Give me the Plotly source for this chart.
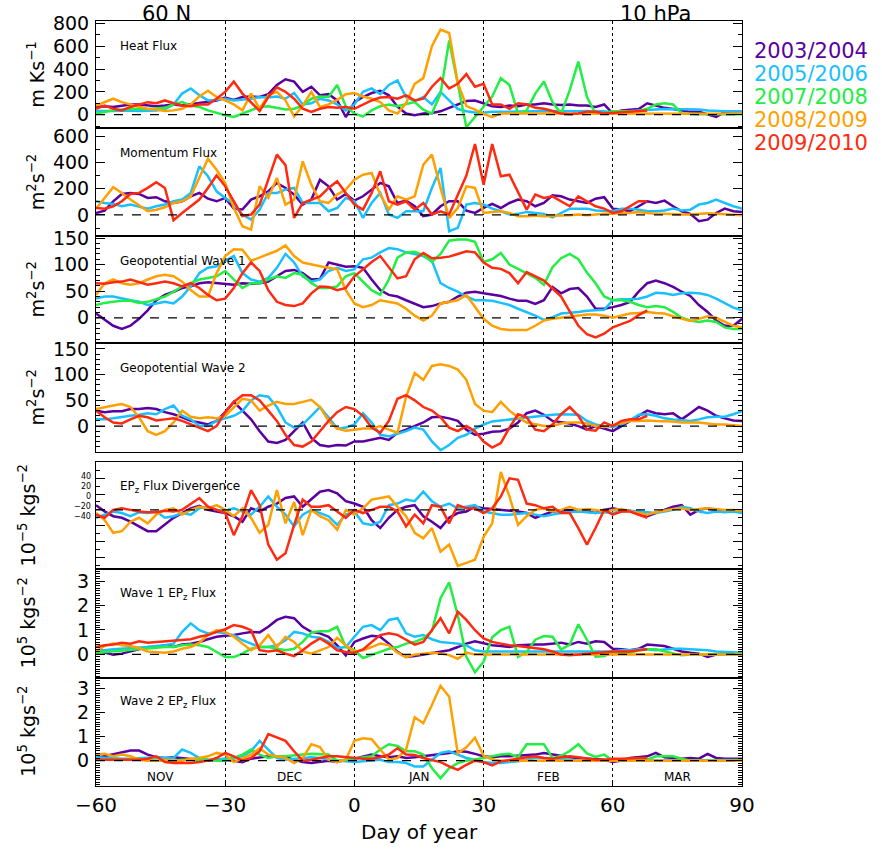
import plotly.graph_objects as go

N = None
days = list(range(-60, 91, 2))
seasons = ["2003/2004", "2005/2006", "2007/2008", "2008/2009", "2009/2010"]
colors = ["#5a00a0", "#19c0ff", "#22ee44", "#ffa000", "#ff2a10"]
months = ["NOV", "DEC", "JAN", "FEB", "MAR"]
month_days = [-45, -15, 15, 45, 75]

# ---------------- Heat Flux (m K/s) ----------------
heat_0304 = [68,75,68,80,90,90,80,75,80,90,
             80,90,105,110,125,150,130,155,160,155,
             180,260,310,290,200,245,170,180,125,-20,
             110,155,190,210,170,70,10,-5,10,15,
             30,60,90,120,125,100,75,68,80,75,
             90,90,100,90,85,90,80,80,68,90,
             10,38,45,50,100,80,60,50,38,25,
             25,5,-20,25,25,25]
heat_0506 = [32,30,32,35,38,32,35,38,50,90,
             185,230,170,125,130,140,125,130,140,155,
             150,160,140,190,90,100,140,125,90,38,
             90,200,230,180,260,300,155,120,155,90,
             200,125,50,30,20,18,25,25,25,30,
             25,30,32,30,30,32,30,32,32,30,
             20,30,32,38,45,45,50,50,45,48,
             45,38,32,25,25,25]
heat_0708 = [10,25,38,45,50,52,50,52,60,90,
             110,80,68,38,15,-5,-20,10,38,68,
             75,60,45,52,80,140,160,155,260,75,
             10,-15,38,75,90,75,90,110,45,10,
             185,650,270,-110,-20,70,160,320,260,10,
             38,185,290,110,10,215,465,155,10,10,
             30,30,32,32,52,90,100,90,10,5,
             5,5,5,5,5,5]
heat_0809 = [80,110,140,110,90,68,50,45,32,38,
             52,90,160,210,155,125,90,38,185,52,
             170,200,125,-15,80,200,68,90,130,180,
             190,160,140,110,38,10,100,270,320,600,
             745,715,280,75,45,5,-20,10,10,8,
             8,8,8,8,8,8,8,8,8,8,
             8,8,8,8,8,8,8,8,8,8,
             8,8,8,8,8,8]
heat_0910 = [52,80,52,38,68,90,110,100,125,100,
             80,75,90,90,140,200,290,185,110,32,
             155,240,200,140,52,25,52,68,60,68,
             52,90,125,150,155,140,170,125,140,245,
             320,230,270,355,245,270,90,90,52,100,
             90,60,52,32,10,5,10,25,25,10,
             15,25,25,30,38,N,N,N,N,N,
             N,N,N,N,N,N]

# ---------------- Momentum Flux (m2/s2) ----------------
mom_0304 = [15,33,104,160,168,160,130,135,104,91,
            104,142,168,124,104,130,48,41,117,142,
            180,244,206,155,79,117,269,218,117,160,
            109,142,193,244,218,91,109,66,-10,3,
            66,104,104,33,15,53,84,53,91,117,
            104,66,91,150,142,117,104,91,124,135,
            48,41,28,66,104,91,109,66,28,8,
            -48,-36,15,48,28,23]
mom_0506 = [104,91,84,66,79,66,48,66,79,104,
            117,168,371,295,180,130,84,3,-36,40,
            168,168,193,206,91,91,91,28,53,130,
            104,-23,91,168,3,-23,28,28,28,206,
            358,-124,-99,79,91,79,48,28,3,8,
            23,15,8,-18,15,48,48,48,33,28,
            28,48,48,40,28,28,33,48,33,40,
            79,91,117,91,66,48]
mom_0809 = [48,130,211,168,117,74,28,40,58,91,
            104,142,282,429,345,244,53,-86,-112,218,
            130,282,79,117,409,231,104,91,155,193,
            269,307,320,155,40,142,117,142,384,460,
            206,-23,53,218,206,15,23,28,15,-10,
            -10,-5,-10,-5,-5,-3,3,-3,3,8,
            8,15,15,23,15,8,8,3,3,3,
            8,13,8,3,-3,-3]
mom_0910 = [53,48,66,104,160,168,206,249,206,-40,
            15,66,117,206,302,218,104,-10,3,79,
            269,460,380,-23,91,117,142,206,256,168,
            79,40,168,333,104,79,104,40,91,3,
            28,3,150,300,541,231,541,295,307,168,
            40,155,130,142,104,66,142,104,66,48,
            15,28,66,104,104,N,N,N,N,N,
            N,N,N,N,N,N]

# ---------------- Geopotential Wave 1 (m2/s2) ----------------
geo1_0304 = [8,-4,-15,-21,-15,-2,14,33,43,49,
             56,59,65,67,65,64,62,65,64,65,
             68,78,88,90,84,72,73,104,100,96,
             97,94,72,52,43,40,33,27,20,22,
             27,30,40,47,49,46,43,41,36,32,
             32,26,33,58,46,54,56,40,17,17,
             20,24,30,49,65,70,65,58,49,41,
             24,11,-5,-15,-15,-2]
geo1_0506 = [36,40,40,36,33,30,24,27,30,27,
             40,59,84,94,97,107,116,84,72,68,
             75,94,120,104,78,68,72,88,94,88,
             91,110,113,123,131,129,123,120,116,107,
             65,56,49,40,33,33,32,28,24,17,
             11,4,-4,1,8,9,11,13,14,15,
             33,35,35,36,40,47,46,43,46,47,
             46,43,36,27,19,14]
geo1_0708 = [24,28,30,32,32,28,30,35,40,49,
             59,65,72,75,78,88,72,56,65,65,
             72,78,75,84,81,65,56,56,59,78,
             84,68,52,43,72,113,123,124,118,105,
             120,145,147,147,143,105,110,122,100,92,
             84,75,62,95,112,120,110,85,65,40,
             33,33,30,24,20,22,20,11,0,-5,
             -8,-5,-8,-18,-21,-21]
geo1_0809 = [43,65,72,65,62,65,72,78,81,78,
             68,52,40,40,84,116,129,128,107,113,
             120,126,136,116,104,100,97,94,91,52,
             27,20,24,33,30,27,17,4,-5,4,
             27,30,33,43,20,-2,-15,-21,-23,-23,
             -23,-15,-5,-2,0,3,4,6,6,4,
             0,4,8,9,11,9,8,3,-2,-6,
             -2,3,0,-8,-15,-18]
geo1_0910 = [65,64,67,68,72,67,62,65,68,65,
             59,65,56,43,33,36,56,84,104,88,
             52,30,24,22,27,46,59,58,52,56,
             78,91,105,116,95,74,78,110,122,112,
             113,115,120,125,123,104,94,92,84,65,
             86,78,70,55,40,12,-15,-31,-37,-30,
             -18,-12,-6,5,14,N,N,N,N,N,
             N,N,N,N,N,N]

# ---------------- Geopotential Wave 2 (m2/s2) ----------------
geo2_0304 = [30,27,29,29,33,33,35,33,27,23,
             17,10,7,3,10,27,47,30,13,-10,
             -30,-33,-27,-10,7,-23,-37,-40,-37,-38,
             -30,-30,-27,-23,-27,-13,-7,0,7,17,
             18,15,10,-7,-17,-15,-11,-10,-5,7,
             25,30,22,10,7,5,0,-7,0,-5,
             -10,0,10,20,30,25,23,25,13,25,
             37,30,20,15,11,10]
geo2_0506 = [13,13,15,18,20,22,25,23,33,40,
             20,13,0,0,10,15,20,29,50,60,
             57,37,7,-3,3,20,37,17,-5,-3,
             3,25,7,-17,-20,-15,-10,-3,-7,-30,
             -47,-37,-23,-17,-5,3,9,11,13,15,
             17,18,20,22,23,23,22,10,3,0,
             -2,3,11,22,23,20,15,13,11,10,
             13,17,18,18,23,29]
geo2_0809 = [33,37,40,43,37,17,-10,-17,-10,7,
             30,18,15,17,15,20,37,53,50,30,
             40,47,43,43,47,51,37,10,-5,-9,
             -7,-5,-5,0,-7,-13,57,103,90,117,
             120,117,110,90,43,30,27,47,30,17,
             7,3,0,0,5,7,7,5,0,-2,
             2,7,10,10,11,10,10,9,7,7,
             7,5,3,3,2,0]
geo2_0910 = [30,17,7,5,13,20,17,11,13,15,
             10,3,-3,-10,0,27,47,60,60,50,
             30,10,-17,-37,-40,-30,-10,10,27,37,
             33,20,-3,-13,10,53,60,50,37,30,
             17,-3,-10,0,-10,-30,-42,-33,-3,23,
             17,-7,-10,3,23,37,20,-7,-9,7,
             0,10,13,13,20,N,N,N,N,N,
             N,N,N,N,N,N]

# ---------------- EPz Flux Divergence (1e-5 kg/s2) ----------------
epd_0304 = [6,-2,-8,-10,-15,-21,-27,-27,-19,-10,
            -4,2,5,0,-2,-4,-8,-15,2,-2,
            4,8,15,17,4,13,23,25,21,11,
            8,4,-13,-23,-10,0,4,6,-8,-15,
            -23,-10,-4,-2,4,2,1,0,-1,-2,
            -4,-10,-6,-2,-1,0,-1,-2,-4,0,
            2,0,-1,-6,-8,-4,0,4,6,-6,
            0,2,0,-1,-1,-1]
epd_0506 = [-10,-6,-2,-4,-8,-3,-4,-2,-10,-8,
            -4,-6,2,4,0,-1,2,-2,-6,4,
            17,4,-6,-21,-6,0,-4,-8,-19,-6,
            -2,-17,-19,-15,6,8,13,11,23,11,
            4,8,2,4,6,-2,-4,-6,-6,-5,
            -4,-6,-8,-6,-4,-3,-2,-3,-4,-3,
            -4,-2,-1,-2,-3,-4,-2,0,4,2,
            -2,-4,-2,-3,-2,-4]
epd_0809 = [-4,-13,-29,-27,-15,-10,-17,-6,0,2,
            -6,0,4,2,6,0,-8,2,-10,-29,
            -19,25,-17,10,-32,0,-8,-13,-25,0,
            -6,2,13,15,17,4,-8,-29,-36,-23,
            -53,-44,-71,-67,-63,-34,-17,48,17,-19,
            -8,0,2,-2,0,4,0,1,0,-2,
            0,1,-2,-4,-6,-3,-1,1,2,0,
            1,2,1,0,0,-1]
epd_0910 = [-6,-10,0,2,0,-2,-3,-3,-1,-2,
            0,8,15,4,0,-4,-32,-8,25,6,
            -44,-63,-55,-19,13,4,4,6,-2,-10,
            0,-4,0,4,4,-2,-21,-6,-17,6,
            4,-17,6,2,2,-4,2,17,40,38,
            8,6,2,4,-4,-4,-23,-44,-23,0,
            -6,-2,-2,-6,-10,N,N,N,N,N,
            N,N,N,N,N,N]

# ---------------- Wave 1 EPz Flux (1e5 kg/s2) ----------------
w1_0304 = [0.17,0.07,-0.01,0.03,0.12,0.23,0.3,0.3,0.37,0.3,
           0.4,0.44,0.51,0.62,0.72,0.76,0.79,0.86,0.92,0.9,
           1.13,1.41,1.54,1.48,1.13,0.92,0.86,0.72,0.37,-0.04,
           0.51,0.65,0.76,0.72,0.44,0.1,-0.11,-0.07,-0.01,0.03,
           0.12,0.17,0.3,0.44,0.54,0.44,0.37,0.34,0.3,0.37,
           0.4,0.4,0.4,0.44,0.48,0.4,0.51,0.44,0.54,0.51,
           0.23,0.21,0.17,0.23,0.4,0.37,0.34,0.23,0.12,0.07,
           0.03,-0.11,-0.01,0.03,0.03,0.03]
w1_0506 = [0.17,0.17,0.21,0.23,0.23,0.26,0.3,0.34,0.37,0.44,
           0.92,1.27,0.99,0.86,0.92,0.86,0.79,0.58,0.44,0.3,
           0.3,0.37,0.58,0.92,0.86,0.72,0.68,0.51,0.26,0.3,
           0.72,1.13,1.2,0.99,1.41,1.48,0.86,0.72,0.79,0.62,
           0.51,0.48,0.44,0.37,0.17,0.12,0.12,0.12,0.12,0.12,
           0.12,0.12,0.12,0.12,0.1,0.12,0.12,0.12,0.12,0.12,
           0.12,0.17,0.17,0.21,0.21,0.17,0.21,0.23,0.23,0.21,
           0.21,0.17,0.12,0.1,0.07,0.07]
w1_0708 = [0.07,0.1,0.12,0.17,0.17,0.21,0.23,0.26,0.3,0.3,
           0.37,0.4,0.37,0.3,0.1,-0.11,-0.11,0.03,0.23,0.3,
           0.3,0.23,0.17,0.23,0.51,0.9,0.95,0.95,1.13,0.3,
           0.17,-0.15,-0.04,0.1,0.23,0.3,0.44,0.51,0.65,0.95,
           2.3,2.95,1.6,-0.1,-0.73,-0.3,0.7,0.99,1.13,-0.1,
           0.1,0.6,0.75,0.72,0.2,0.4,1.23,0.6,-0.1,-0.07,
           0.07,0.07,0.07,0.17,0.21,0.21,0.12,0.03,-0.04,-0.01,
           -0.01,-0.01,-0.01,-0.01,-0.01,-0.01]
w1_0809 = [0.12,0.34,0.44,0.37,0.34,0.26,0.12,0.1,0.07,0.12,
           0.23,0.3,0.48,0.79,0.99,0.92,0.72,0.44,0.17,0.37,
           0.79,0.3,0.72,0.51,0.12,0.03,0.17,0.3,0.68,0.37,
           0.12,0.17,0.3,0.44,0.37,0.07,-0.11,-0.01,0.03,0.07,
           0.03,-0.03,-0.18,0.07,-0.01,-0.01,-0.01,-0.01,-0.01,-0.01,
           -0.01,-0.01,-0.01,-0.01,-0.01,-0.01,-0.01,-0.01,-0.01,-0.01,
           -0.01,-0.01,-0.01,-0.01,-0.01,-0.01,-0.01,-0.01,-0.01,-0.01,
           -0.01,-0.01,-0.01,-0.01,-0.01,-0.01]
w1_0910 = [0.3,0.37,0.4,0.48,0.44,0.54,0.48,0.51,0.54,0.58,
           0.58,0.62,0.72,0.79,0.92,1.03,1.2,1.13,0.99,0.17,
           0.12,0.17,0.03,-0.07,0.17,0.44,0.65,0.44,0.17,0.1,
           0.07,0.2,0.5,0.79,0.86,0.8,0.6,0.4,0.51,0.99,
           1.48,0.86,1.75,1.41,0.99,0.65,0.51,0.44,0.37,0.34,
           0.3,0.23,0.21,0.12,-0.01,-0.04,-0.01,0.03,0.07,0.1,
           0.12,0.12,0.12,0.17,0.21,N,N,N,N,N,
           N,N,N,N,N,N]

# ---------------- Wave 2 EPz Flux (1e5 kg/s2) ----------------
w2_0304 = [0.11,0.18,0.25,0.32,0.42,0.42,0.25,0.14,0.11,0.14,
           0.11,0.08,0.04,0,0.04,0.04,0,-0.06,0.08,0.14,
           0.18,0.18,0.14,0.04,-0.06,-0.1,-0.06,0,-0.06,0.04,
           0.08,0.18,0.25,0.18,0.14,0.18,0.11,0.14,0.18,0.23,
           0.25,0.32,0.39,0.37,0.28,0.18,0.14,0.18,0.18,0.21,
           0.25,0.25,0.32,0.25,0.18,0.14,0.11,0.08,0.08,0.04,
           -0.06,0,0.11,0.14,0.18,0.32,0.14,0.11,0.08,0.11,
           0.08,0.28,0.11,0.08,0.08,0.08]
w2_0506 = [0.14,0.11,0.11,0.08,0.08,0.11,0.14,0.14,0.11,0.11,
           0.46,0.32,0.11,0.04,0.04,0.08,0.11,0.18,0.39,0.82,
           0.46,0.11,0.04,0.08,0.11,0.14,0.11,0.04,0,-0.03,
           -0.06,-0.03,0,0.04,-0.06,-0.06,-0.1,-0.24,-0.24,0.04,
           0.32,0.39,0.25,0.11,0.04,-0.06,-0.1,-0.1,-0.06,-0.03,
           0.04,0.11,0.11,0.11,0.08,0.04,0,0,0,0,
           0,0.03,0.03,0.03,0.03,0.03,0.03,0.03,0.03,0.03,
           0.03,0.03,0.03,0.03,0.03,0.03]
w2_0708 = [0.04,0.04,0.04,0.04,0.04,0.08,0.04,0,0,0,
           0.04,0.04,0.04,0.04,0,0,0.11,0.25,0.46,0.25,
           0.11,0.18,0.18,0.23,0.25,0.28,0.28,0.25,0,0.04,
           0.08,0.11,0.18,0.46,0.68,0.61,0.39,0.39,0.25,-0.31,
           -0.73,-0.31,-0.1,0,0.04,0.11,0.18,0.25,0.28,0.14,
           0.68,0.68,0.68,0.1,0.2,0.4,0.68,0.3,0.15,0.25,
           0,0,0.04,0.04,0.04,0.18,0.18,0.18,0.08,0,
           0,0,0,0,0,0]
w2_0809 = [0.25,0.28,0.18,0.25,0.18,0.04,0,0,0.04,0,
           0,0.08,0.11,0.18,0.32,0.25,-0.06,0.08,0.25,0.51,
           0.25,0.18,0.11,-0.1,0.11,0.68,0.56,0.04,-0.06,0.04,
           0.82,0.93,0.89,0.46,0.04,0.11,0.46,1.8,1.55,2.3,
           3.1,2.65,0.3,0.55,0.95,0.2,0.05,0,0,0,
           0,0,0,0,0,0,0,0,0,0,
           0,0,0,0,0,0,0,0,0,0,
           0,0,0,0,0,0]
w2_0910 = [0.04,0.04,0.04,0.04,0.04,0.04,0.08,0.18,-0.06,-0.1,
           -0.1,-0.1,-0.06,0,0.11,0.32,0.18,0,0.11,0.39,
           1.1,0.96,0.82,0.39,0,0.04,0.11,0.18,0.18,0.14,
           0.11,0.08,0.08,0.14,0.25,0.51,0.25,0.23,0.11,0.04,
           -0.06,-0.24,-0.38,-0.17,0,-0.06,-0.2,-0.03,0.04,0.08,
           0.14,0.18,0.11,0.08,0.14,0.18,0.14,0.08,0.04,0.04,
           0.08,0.08,0.11,0.11,0.11,N,N,N,N,N,
           N,N,N,N,N,N]

# ---------------- layout constants (pixels) ----------------
W, H = 882, 850
L, R, T, B = 96, 742, 17, 786
FONT = "DejaVu Sans"


def px_x(p):
    return (p - L) / (R - L)


def px_y(p):
    return (B - p) / (B - T)


panels = [
    dict(series=[heat_0304, heat_0506, heat_0708, heat_0809, heat_0910],
         yr=[-120, 820], tv=[0, 200, 400, 600, 800], mdt=100,
         top=17, bot=125, label="Heat Flux", unit="m Ks<sup>−1</sup>", ux=36),
    dict(series=[mom_0304, mom_0506, None, mom_0809, mom_0910],
         yr=[-160, 660], tv=[0, 200, 400, 600], mdt=100,
         top=125, bot=233, label="Momentum Flux", unit="m<sup>2</sup>s<sup>−2</sup>", ux=36),
    dict(series=[geo1_0304, geo1_0506, geo1_0708, geo1_0809, geo1_0910],
         yr=[-48, 154], tv=[0, 50, 100, 150], mdt=10,
         top=233, bot=341, label="Geopotential Wave 1", unit="m<sup>2</sup>s<sup>−2</sup>", ux=36),
    dict(series=[geo2_0304, geo2_0506, None, geo2_0809, geo2_0910],
         yr=[-50, 161], tv=[0, 50, 100, 150], mdt=10,
         top=341, bot=450, label="Geopotential Wave 2", unit="m<sup>2</sup>s<sup>−2</sup>", ux=36),
    dict(series=[epd_0304, epd_0506, None, epd_0809, epd_0910],
         yr=[-75, 61], tv=[-60, -40, -20, 0, 20, 40, 60], mdt=10,
         top=460, bot=568, label="EP<sub>z</sub> Flux Divergence",
         unit="10<sup>−5</sup> kgs<sup>−2</sup>", ux=27, nolabels=True),
    dict(series=[w1_0304, w1_0506, w1_0708, w1_0809, w1_0910],
         yr=[-0.95, 3.49], tv=[0, 1, 2, 3], mdt=0.1,
         top=568, bot=677, label="Wave 1 EP<sub>z</sub> Flux",
         unit="10<sup>5</sup> kgs<sup>−2</sup>", ux=27),
    dict(series=[w2_0304, w2_0506, w2_0708, w2_0809, w2_0910],
         yr=[-1.05, 3.44], tv=[0, 1, 2, 3], mdt=0.1,
         top=677, bot=786, label="Wave 2 EP<sub>z</sub> Flux",
         unit="10<sup>5</sup> kgs<sup>−2</sup>", ux=27),
]

for p in panels:
    for s in p["series"]:
        if s is not None:
            assert len(s) == len(days), (p["label"], len(s))

fig = go.Figure()
layout = dict(width=W, height=H, margin=dict(l=L, r=W - R, t=T, b=H - B),
              paper_bgcolor="white", plot_bgcolor="white", showlegend=False,
              font=dict(family=FONT, color="black"))
shapes, annotations = [], []

for i, p in enumerate(panels, start=1):
    xa = "x" if i == 1 else f"x{i}"
    ya = "y" if i == 1 else f"y{i}"
    xkey = "xaxis" if i == 1 else f"xaxis{i}"
    ykey = "yaxis" if i == 1 else f"yaxis{i}"
    dom = [px_y(p["bot"]), px_y(p["top"])]
    layout[xkey] = dict(domain=[0, 1], anchor=ya, range=[-60, 90],
                        tickvals=[-60, -30, 0, 30, 60, 90],
                        showgrid=True, gridcolor="black", griddash="dot", gridwidth=1,
                        zeroline=False, showline=True, linecolor="black", linewidth=1,
                        mirror=True, ticks="inside", ticklen=5, tickcolor="black",
                        showticklabels=(i == 7), tickfont=dict(size=20, family=FONT),
                        ticklabelstandoff=1)
    if i != 1:
        layout[xkey]["matches"] = "x"
    layout[ykey] = dict(domain=dom, anchor=xa, range=p["yr"], tickvals=p["tv"],
                        showgrid=False, zeroline=False, showline=True,
                        linecolor="black", linewidth=1, mirror="ticks",
                        ticks="inside", ticklen=9, tickcolor="black",
                        minor=dict(ticks="inside", ticklen=4, dtick=p["mdt"], tick0=0,
                                   tickcolor="black", showgrid=False),
                        showticklabels=not p.get("nolabels", False),
                        tickfont=dict(size=19, family=FONT), ticklabelstandoff=2)
    for s, c in zip(p["series"], colors):
        if s is None:
            continue
        fig.add_trace(go.Scatter(x=days, y=s, mode="lines", xaxis=xa, yaxis=ya,
                                 line=dict(color=c, width=2.5), connectgaps=False,
                                 hoverinfo="skip"))
    shapes.append(dict(type="line", xref=xa, yref=ya, x0=-60, x1=90, y0=0, y1=0,
                       line=dict(color="black", width=1.2, dash="dash")))
    annotations.append(dict(text=p["label"], xref="paper", yref="paper",
                            x=px_x(118), y=px_y(p["top"] + 25), xanchor="left",
                            yanchor="middle", showarrow=False,
                            font=dict(size=12, family=FONT)))
    annotations.append(dict(text=p["unit"], xref="paper", yref="paper",
                            x=px_x(p["ux"]), y=px_y((p["top"] + p["bot"]) / 2),
                            textangle=-90, xanchor="center", yanchor="middle",
                            showarrow=False, font=dict(size=19, family=FONT)))

# tightly packed tick labels of the divergence panel (as drawn in the original)
ep_lab = ["40", "20", "0", "−20", "−40"]
ep_lab_y = [475, 485, 495, 505, 515]
for t, yp in zip(ep_lab, ep_lab_y):
    annotations.append(dict(text=t, xref="paper", yref="paper", x=px_x(93), y=px_y(yp),
                            xanchor="right", yanchor="middle", showarrow=False,
                            font=dict(size=8, family=FONT)))

# month names in the bottom panel
for m, d in zip(months, month_days):
    annotations.append(dict(text=m, xref="x7", yref="paper", x=d, y=px_y(777),
                            xanchor="center", yanchor="middle", showarrow=False,
                            font=dict(size=12, family=FONT)))

# legend as coloured text
for k, (s, c) in enumerate(zip(seasons, colors)):
    annotations.append(dict(text=s, xref="paper", yref="paper", x=px_x(752),
                            y=px_y(47 + 23.2 * k), xanchor="left", yanchor="middle",
                            showarrow=False, font=dict(size=21, family=FONT, color=c)))

annotations.append(dict(text="60 N", xref="paper", yref="paper", x=px_x(166), y=px_y(10),
                        xanchor="center", yanchor="middle", showarrow=False,
                        font=dict(size=21, family=FONT)))
annotations.append(dict(text="10 hPa", xref="paper", yref="paper", x=px_x(655), y=px_y(10),
                        xanchor="center", yanchor="middle", showarrow=False,
                        font=dict(size=21, family=FONT)))
annotations.append(dict(text="Day of year", xref="paper", yref="paper", x=px_x(419),
                        y=px_y(832), xanchor="center", yanchor="middle", showarrow=False,
                        font=dict(size=20, family=FONT)))

layout["shapes"] = shapes
layout["annotations"] = annotations
fig.update_layout(**layout)
fig.write_html("out.html")
